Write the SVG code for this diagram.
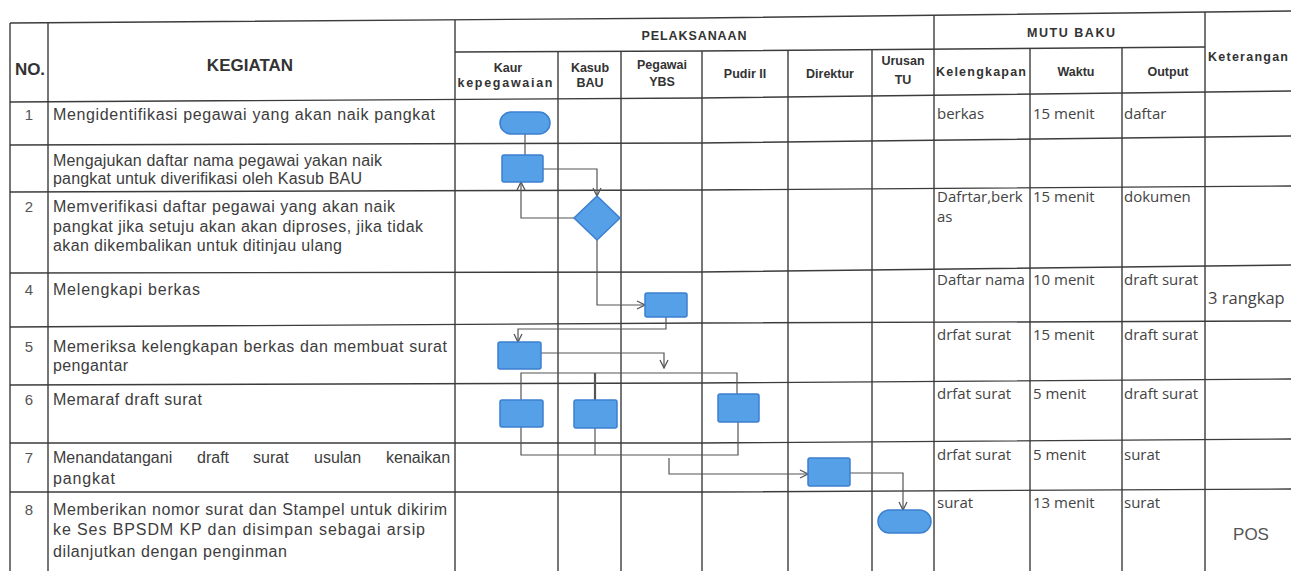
<svg xmlns="http://www.w3.org/2000/svg" width="1291" height="571" viewBox="0 0 1291 571">
<style>
.bg{fill:#ffffff}
.grid{stroke:#3c3c3c;stroke-width:1.4;fill:none}
.hd{font-family:"Liberation Sans",Arial,sans-serif;font-weight:bold;fill:#333;font-size:12.5px}
.hdl{font-family:"Liberation Sans",Arial,sans-serif;font-weight:bold;fill:#333;font-size:17px}
.act{font-family:"Liberation Sans",Arial,sans-serif;fill:#3d3d3d;font-size:16px}
.num{font-family:"Liberation Sans",Arial,sans-serif;fill:#555;font-size:15px;text-anchor:middle}
.mb{font-family:"Open Sans",sans-serif;fill:#444;font-size:15px}
.mid{text-anchor:middle}
.shape{fill:#56a0e8;stroke:#3b7fcf;stroke-width:1.5}
.conn{stroke:#555;stroke-width:1.2;fill:none}
</style>
<defs>
<marker id="arr" viewBox="0 0 10 10" refX="9" refY="5" markerWidth="10" markerHeight="10" markerUnits="userSpaceOnUse" orient="auto">
<path d="M1,1 L9,5 L1,9" fill="none" stroke="#555" stroke-width="1.3"/>
</marker>
</defs>
<rect class="bg" x="0" y="0" width="1291" height="571"/>

<g id="table">
<polyline class="grid" points="10,23 700,18 1291,11"/>
<polyline class="grid" points="455,52 700,51 1205,47"/>
<polyline class="grid" points="10,102 700,98 1291,91"/>
<polyline class="grid" points="10,145 700,143 1291,136"/>
<polyline class="grid" points="10,192 700,190 1291,186"/>
<polyline class="grid" points="10,273 700,272 1291,265"/>
<polyline class="grid" points="10,327 700,323 1291,321"/>
<polyline class="grid" points="10,385 700,383 1291,379"/>
<polyline class="grid" points="10,443 700,443 1291,439"/>
<polyline class="grid" points="10,492 700,492 1291,489"/>
<line class="grid" x1="10" y1="23" x2="10" y2="571"/>
<line class="grid" x1="48" y1="23" x2="48" y2="571"/>
<line class="grid" x1="455" y1="20" x2="455" y2="571"/>
<line class="grid" x1="558" y1="52" x2="558" y2="571"/>
<line class="grid" x1="621" y1="51" x2="621" y2="571"/>
<line class="grid" x1="702" y1="51" x2="702" y2="571"/>
<line class="grid" x1="788" y1="50" x2="788" y2="571"/>
<line class="grid" x1="872" y1="49" x2="872" y2="571"/>
<line class="grid" x1="934" y1="15" x2="934" y2="571"/>
<line class="grid" x1="1030" y1="49" x2="1030" y2="571"/>
<line class="grid" x1="1122" y1="48" x2="1122" y2="571"/>
<line class="grid" x1="1205" y1="12" x2="1205" y2="571"/>
</g>

<g id="header">
<text class="hdl" x="15" y="75" textLength="30">NO.</text>
<text class="hdl mid" x="250" y="71">KEGIATAN</text>
<text class="hd mid" x="694" y="40" textLength="105">PELAKSANAAN</text>
<text class="hd mid" x="1071" y="37" textLength="88">MUTU BAKU</text>
<text class="hd" x="1208" y="61" textLength="80">Keterangan</text>
<text class="hd mid" x="508" y="72">Kaur</text>
<text class="hd mid" x="505" y="87" textLength="95">kepegawaian</text>
<text class="hd mid" x="590" y="72">Kasub</text>
<text class="hd mid" x="590" y="87">BAU</text>
<text class="hd mid" x="662" y="69">Pegawai</text>
<text class="hd mid" x="662" y="86">YBS</text>
<text class="hd mid" x="745" y="78">Pudir II</text>
<text class="hd mid" x="830" y="78">Direktur</text>
<text class="hd mid" x="903" y="65">Urusan</text>
<text class="hd mid" x="903" y="84">TU</text>
<text class="hd" x="936" y="76" textLength="90">Kelengkapan</text>
<text class="hd mid" x="1076" y="76">Waktu</text>
<text class="hd mid" x="1168" y="76">Output</text>
</g>

<g id="activities">
<text class="num" x="29" y="120">1</text>
<text class="act" x="53" y="120" textLength="382">Mengidentifikasi pegawai yang akan naik pangkat</text>
<text class="act" x="53" y="166" textLength="329">Mengajukan daftar nama pegawai yakan naik</text>
<text class="act" x="53" y="184" textLength="309">pangkat untuk diverifikasi oleh Kasub BAU</text>
<text class="num" x="29" y="212">2</text>
<text class="act" x="53" y="212" textLength="342">Memverifikasi daftar pegawai yang akan naik</text>
<text class="act" x="53" y="232" textLength="370">pangkat jika setuju akan akan diproses, jika tidak</text>
<text class="act" x="53" y="251" textLength="289">akan dikembalikan untuk ditinjau ulang</text>
<text class="num" x="29" y="295">4</text>
<text class="act" x="53" y="295" textLength="147">Melengkapi berkas</text>
<text class="num" x="29" y="352">5</text>
<text class="act" x="53" y="352" textLength="394">Memeriksa kelengkapan berkas dan membuat surat</text>
<text class="act" x="53" y="371" textLength="75">pengantar</text>
<text class="num" x="29" y="405">6</text>
<text class="act" x="53" y="405" textLength="149">Memaraf draft surat</text>
<text class="num" x="29" y="463">7</text>
<text class="act" y="463"><tspan x="53">Menandatangani</tspan><tspan x="197">draft</tspan><tspan x="253">surat</tspan><tspan x="314">usulan</tspan><tspan x="386">kenaikan</tspan></text>
<text class="act" x="53" y="484" textLength="62">pangkat</text>
<text class="num" x="29" y="515">8</text>
<text class="act" x="53" y="515" textLength="394">Memberikan nomor surat dan Stampel untuk dikirim</text>
<text class="act" x="53" y="535" textLength="372">ke Ses BPSDM KP dan  disimpan sebagai arsip</text>
<text class="act" x="53" y="557" textLength="234">dilanjutkan dengan penginman</text>
</g>

<g id="mutu">
<text class="mb" x="937" y="119">berkas</text>
<text class="mb" x="1033" y="119">15 menit</text>
<text class="mb" x="1124" y="119">daftar</text>
<text class="mb" x="937" y="202">Dafrtar,berk</text>
<text class="mb" x="937" y="222">as</text>
<text class="mb" x="1033" y="202">15 menit</text>
<text class="mb" x="1124" y="202">dokumen</text>
<text class="mb" x="937" y="285">Daftar nama</text>
<text class="mb" x="1033" y="285">10 menit</text>
<text class="mb" x="1124" y="285">draft surat</text>
<text class="mb" x="1208" y="304" style="font-size:16.5px">3 rangkap</text>
<text class="mb" x="937" y="340">drfat surat</text>
<text class="mb" x="1033" y="340">15 menit</text>
<text class="mb" x="1124" y="340">draft surat</text>
<text class="mb" x="937" y="399">drfat surat</text>
<text class="mb" x="1033" y="399">5 menit</text>
<text class="mb" x="1124" y="399">draft surat</text>
<text class="mb" x="937" y="460">drfat surat</text>
<text class="mb" x="1033" y="460">5 menit</text>
<text class="mb" x="1124" y="460">surat</text>
<text class="mb" x="937" y="508">surat</text>
<text class="mb" x="1033" y="508">13 menit</text>
<text class="mb" x="1124" y="508">surat</text>
<text class="act mid" x="1251" y="540" style="font-size:17px;fill:#555">POS</text>
</g>

<g id="connectors">
<path class="conn" d="M525,134 V155"/>
<path class="conn" d="M543,169 H597 V196" marker-end="url(#arr)"/>
<path class="conn" d="M574,218 H521 V182" marker-end="url(#arr)"/>
<path class="conn" d="M597,240 V305 H645" marker-end="url(#arr)"/>
<path class="conn" d="M666,317 V329 H518 V342" marker-end="url(#arr)"/>
<path class="conn" d="M541,353 H664 V368" marker-end="url(#arr)"/>
<path class="conn" d="M521,400 V373 H737 V394"/>
<path class="conn" d="M595,373 V400" style="stroke-width:2.2"/>
<path class="conn" d="M521,427 V455 H738 V422"/>
<path class="conn" d="M595,428 V455"/>
<path class="conn" d="M669,458 V474 H808" marker-end="url(#arr)"/>
<path class="conn" d="M850,473 H903 V510" marker-end="url(#arr)"/>
</g>

<g id="n1"><rect class="shape" x="500" y="112" width="50" height="22" rx="11"/></g>
<g id="n2"><rect class="shape" x="502" y="155" width="41" height="27" rx="2"/></g>
<g id="n3"><polygon class="shape" points="597,196 620,218 597,240 574,218"/></g>
<g id="n4"><rect class="shape" x="645" y="293" width="42" height="24" rx="2"/></g>
<g id="n5"><rect class="shape" x="498" y="342" width="43" height="27" rx="2"/></g>
<g id="n6"><rect class="shape" x="500" y="400" width="43" height="27" rx="2"/></g>
<g id="n7"><rect class="shape" x="574" y="400" width="43" height="28" rx="2"/></g>
<g id="n8"><rect class="shape" x="718" y="394" width="41" height="28" rx="2"/></g>
<g id="n9"><rect class="shape" x="808" y="458" width="42" height="28" rx="2"/></g>
<g id="n10"><rect class="shape" x="878" y="510" width="53" height="23" rx="11.5"/></g>
</svg>
